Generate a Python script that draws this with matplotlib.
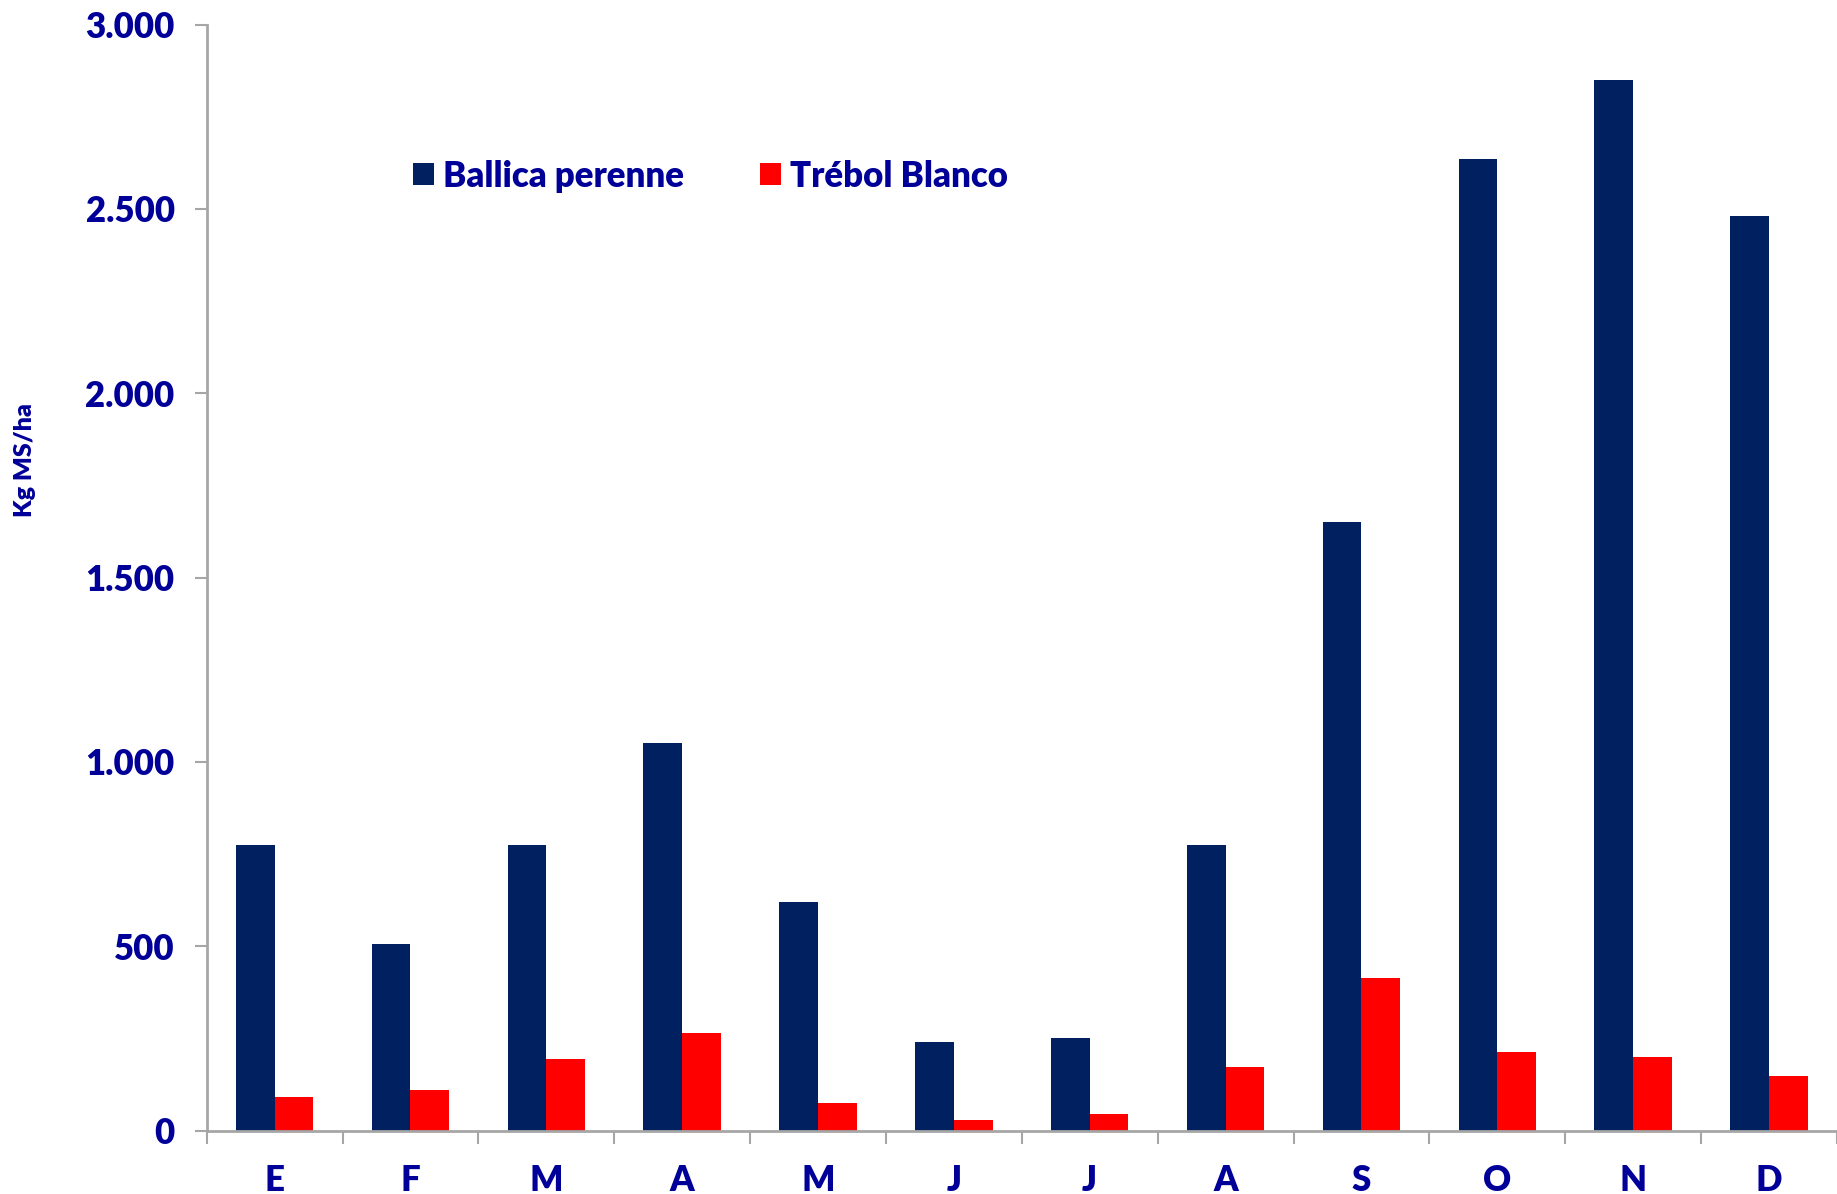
import matplotlib.pyplot as plt
import numpy as np

months = ['E', 'F', 'M', 'A', 'M', 'J', 'J', 'A', 'S', 'O', 'N', 'D']
ballica = [775, 505, 775, 1050, 620, 240, 250, 775, 1650, 2635, 2850, 2480]
trebol = [92, 111, 194, 264, 76, 29, 44, 172, 413, 213, 200, 149]
yticks = [0, 500, 1000, 1500, 2000, 2500, 3000]
ytick_labels = ['0', '500', '1.000', '1.500', '2.000', '2.500', '3.000']

txt_color = '#000099'
plt.rcParams['font.family'] = ['Lato', 'DejaVu Sans']

fig = plt.figure(figsize=(18.37, 11.94), dpi=100)
ax = fig.add_axes([0.1125, 0.0531, 0.8875, 0.9263])

x = np.arange(len(months))
w = 0.285
ax.bar(x - w / 2, ballica, w, color='#002060', label='Ballica perenne')
ax.bar(x + w / 2, trebol, w, color='#FF0000', label='Trébol Blanco')

ax.set_xlim(-0.5, 11.47)
ax.set_ylim(0, 3000)
ax.set_yticks(yticks)
ax.set_yticklabels(ytick_labels)
ax.set_xticks(x)
ax.set_xticklabels(months)
ax.set_xticks(np.arange(-0.5, 12, 1), minor=True)

for s in ['top', 'right']:
    ax.spines[s].set_visible(False)
for s in ['left', 'bottom']:
    ax.spines[s].set_color('#A6A6A6')
    ax.spines[s].set_linewidth(2)

ax.tick_params(axis='y', length=9, width=1.5, color='#A6A6A6', pad=14,
               labelsize=25, labelcolor=txt_color)
ax.tick_params(axis='x', which='major', length=0, pad=24,
               labelsize=25, labelcolor=txt_color)
ax.tick_params(axis='x', which='minor', length=9, width=1.5, color='#A6A6A6')
for lab in ax.get_xticklabels() + ax.get_yticklabels():
    lab.set_fontweight('heavy')

fig.text(0.0135, 0.615, 'Kg MS/ha', rotation=90, ha='center', va='center',
         fontsize=18, fontweight='heavy', color=txt_color)

leg = ax.legend(loc='center left', bbox_to_anchor=(0.1075, 0.863), ncol=2,
                frameon=False, fontsize=25, handlelength=0.6, handleheight=0.6,
                handletextpad=0.25, columnspacing=2.2)
for t in leg.get_texts():
    t.set_color(txt_color)
    t.set_fontweight('heavy')

fig.savefig('out.png', dpi=100)
